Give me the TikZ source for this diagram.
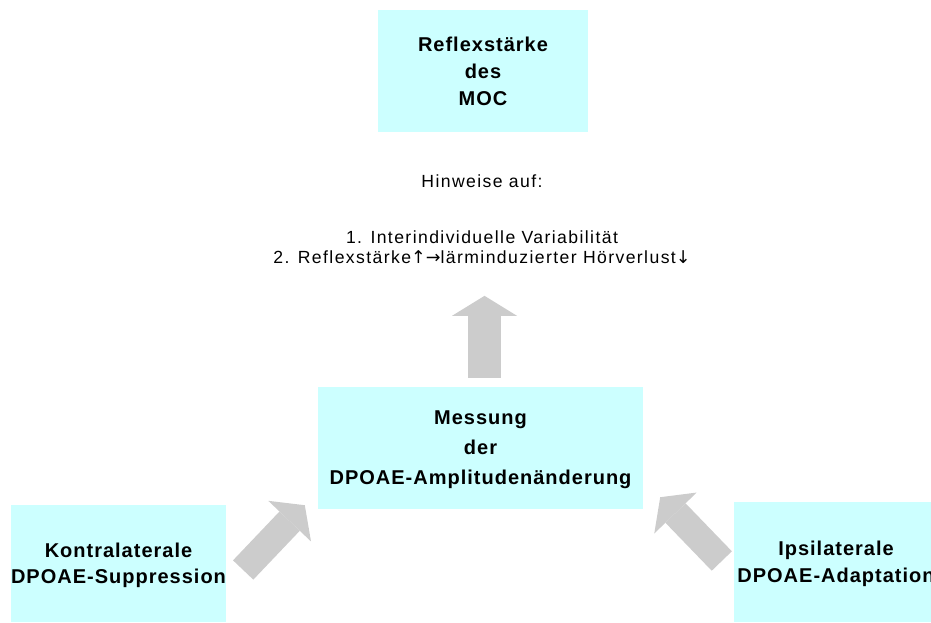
\documentclass[tikz,border=0pt]{standalone}
\usepackage{fontspec}
\setmainfont{Liberation Sans}
\newfontfamily\boxfont{Liberation Sans}[LetterSpace=5]
\newfontfamily\notefont{Liberation Sans}[LetterSpace=8]
\newfontfamily\symfont{DejaVu Sans}
\usetikzlibrary{arrows.meta}
\definecolor{boxfill}{HTML}{CCFFFF}
\definecolor{arrowgray}{HTML}{CCCCCC}

\begin{document}
\begin{tikzpicture}[x=1pt,y=-1pt,
    box/.style={fill=boxfill,inner sep=0pt,text depth=0pt,align=center,font=\boxfont\bfseries\fontsize{20}{27}\selectfont},
    note/.style={inner sep=0pt,align=center,font=\notefont\fontsize{17.6}{20}\selectfont},
    blockup/.style={draw=arrowgray,line width=33pt,-{Triangle[length=20pt,width=65pt,line width=0pt]}},
    blockdiag/.style={draw=arrowgray,line width=28pt,-{Triangle[length=22pt,width=59pt,line width=0pt]}}]
  \useasboundingbox (0,0) rectangle (931,623);
  \clip (0,0) rectangle (931,623);
  \node[box,minimum width=210pt,minimum height=122pt] (moc) at (483,71) {Reflexstärke\\des\\MOC};
  \node[note,anchor=base] (hint) at (482,187) {Hinweise auf:};
  \node[note,anchor=north] (notes) at (482,230.5)
    {1. Interindividuelle Variabilität\\2. Reflexstärke{\symfont↑→}lärminduzierter Hörverlust{\symfont↓}};
  \node[box,minimum width=325pt,minimum height=122pt,font=\boxfont\bfseries\fontsize{20}{30}\selectfont] (mess) at (480.5,448)
    {Messung\\der\\DPOAE-Amplitudenänderung};
  \node[box,minimum width=209pt,minimum height=117pt,font=\boxfont\bfseries\fontsize{20}{26}\selectfont] (kontra) at (118.5,563.5)
    {Kontralaterale\\DPOAE-Suppression};
  \node[box,minimum width=204pt,minimum height=120pt] (ipsi) at (836,562)
    {Ipsilaterale\\DPOAE-Adaptation};
  \draw[blockup] ([xshift=4pt,yshift=9pt]mess.north) -- ([xshift=2.5pt,yshift=-32pt]notes.south);
  \draw[blockdiag] ([xshift=17pt,yshift=-6.5pt]kontra.east) -- ([xshift=-13pt,yshift=4pt]mess.south west);
  \draw[blockdiag] ([xshift=-12pt,yshift=1pt]ipsi.west) -- ([xshift=17pt,yshift=12pt]mess.south east);
\end{tikzpicture}
\end{document}
